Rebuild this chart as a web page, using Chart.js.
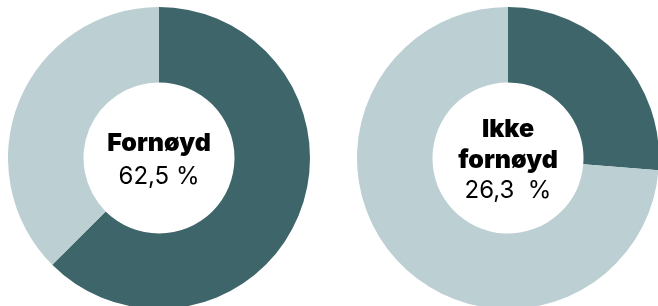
<!DOCTYPE html>
<html>
<head>
<meta charset="utf-8">
<script src="https://cdn.jsdelivr.net/npm/chart.js@4"></script>
<style>
  html, body { margin: 0; padding: 0; background: #fff; overflow: hidden; }
  body { width: 658px; height: 306px; position: relative; }
  .box { position: absolute; top: 7px; width: 302px; height: 302px; }
</style>
</head>
<body>
<div class="box" style="left:8px"><canvas id="left"></canvas></div>
<div class="box" style="left:357px"><canvas id="right"></canvas></div>
<script>
var segments = ["Fornøyd / Ikke fornøyd", "Resten"];
var leftValues = [62.5, 37.5];
var rightValues = [26.3, 73.7];
var leftLabel = ["Fornøyd"];
var rightLabel = ["Ikke", "fornøyd"];
var leftPercent = "62,5 %";
var rightPercent = "26,3  %";

var dark = "#3e6569";
var light = "#bccfd3";

// writes the label and percent in the hole of the doughnut
var centerText = {
	id: "centerText",
	afterDraw: function (chart, args, opts) {
		var ctx = chart.ctx;
		var arc = chart.getDatasetMeta(0).data[0];
		var x = arc.x, y = arc.y;
		var lines = opts.lines;
		var total = lines.length + 1;
		var start = y + opts.shift - ((total - 1) * opts.lineHeight) / 2;
		ctx.save();
		ctx.fillStyle = "#000";
		ctx.textAlign = "center";
		ctx.textBaseline = "middle";
		ctx.font = "900 25px Inter";
		for (var i = 0; i < lines.length; i++) {
			ctx.fillText(lines[i], x, start + i * opts.lineHeight);
		}
		ctx.font = "24px Inter";
		ctx.fillText(opts.percent, x, start + lines.length * opts.lineHeight);
		ctx.restore();
	},
};

function makeChart(id, values, lines, percent, lh, shift) {
	return new Chart(document.getElementById(id), {
		type: "doughnut",
		data: {
			labels: segments,
			datasets: [
				{
					data: values,
					backgroundColor: [dark, light],
					borderWidth: 0,
				},
			],
		},
		options: {
			responsive: true,
			maintainAspectRatio: false,
			animation: false,
			cutout: "50%",
			plugins: {
				legend: { display: false },
				tooltip: { enabled: false },
				centerText: { lines: lines, percent: percent, lineHeight: lh, shift: shift },
			},
		},
		plugins: [centerText],
	});
}

makeChart("left", leftValues, leftLabel, leftPercent, 33, 2);
makeChart("right", rightValues, rightLabel, rightPercent, 31, 2);
</script>
</body>
</html>
